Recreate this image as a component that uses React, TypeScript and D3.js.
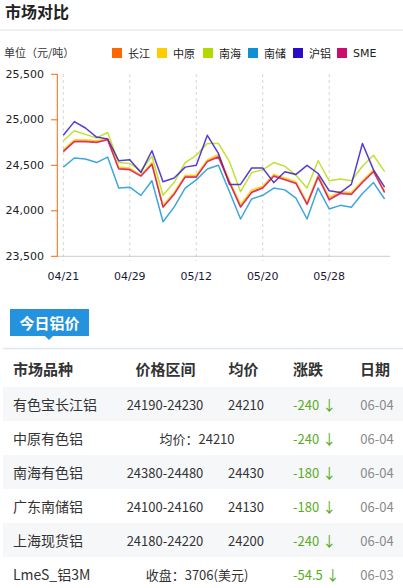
import React from "react";
import * as d3 from "d3";

const dates = ["04/21","04/22","04/23","04/24","04/25","04/28","04/29","04/30","05/06","05/07","05/08","05/09","05/12","05/13","05/14","05/15","05/16","05/19","05/20","05/21","05/22","05/23","05/26","05/27","05/28","05/29","05/30","06/02","06/03","06/04"];
const tickDates = ["04/21","04/29","05/12","05/20","05/28"];
const yTicks = [23500, 24000, 24500, 25000, 25500];

const changjiang = [24660,24770,24770,24760,24790,24470,24460,24390,24520,24050,24190,24380,24380,24550,24600,24320,24050,24210,24260,24390,24350,24310,24080,24380,24130,24200,24190,24320,24440,24210];
const zhongyuan = [24670,24780,24780,24770,24790,24480,24470,24390,24530,24060,24200,24390,24390,24560,24620,24330,24070,24230,24270,24400,24360,24320,24090,24390,24150,24210,24200,24330,24450,24210];
const nanhai = [24770,24880,24840,24800,24860,24530,24520,24440,24600,24170,24310,24530,24610,24740,24740,24540,24210,24420,24450,24530,24490,24390,24250,24550,24330,24350,24330,24490,24610,24430];
const nanchu = [24480,24580,24570,24530,24590,24250,24260,24170,24330,23880,24040,24250,24340,24460,24500,24210,23910,24130,24170,24250,24230,24140,23910,24250,24020,24060,24040,24190,24310,24130];
const hulv = [24830,24980,24910,24810,24790,24550,24560,24420,24660,24320,24360,24480,24500,24830,24630,24290,24290,24470,24470,24310,24430,24400,24500,24410,24220,24200,24290,24740,24450,24260];
const sme = [24650,24760,24760,24750,24780,24460,24450,24380,24510,24040,24180,24370,24370,24540,24590,24310,24040,24200,24250,24380,24340,24300,24070,24370,24120,24190,24180,24310,24430,24200];

const seriesNames = ["长江","中原","南海","南储","沪铝","SME"];
const seriesValues = [changjiang, zhongyuan, nanhai, nanchu, hulv, sme];
const seriesColors = ["#ff6600","#ffcc00","#b3d900","#0e90d2","#2a0dc8","#cc0c6e"];

const tableHeaders = ["市场品种","价格区间","均价","涨跌","日期"];
const rowNames = ["有色宝长江铝","中原有色铝","南海有色铝","广东南储铝","上海现货铝","LmeS_铝3M"];
const rowRanges = ["24190-24230","均价：24210","24380-24480","24100-24160","24180-24220","收盘：3706(美元)"];
const rowAvgs = ["24210","","24430","24130","24200",""];
const rowChanges = ["-240","-240","-180","-180","-240","-54.5"];
const rowDates = ["06-04","06-04","06-04","06-04","06-04","06-03"];

const CJK = "'Noto Sans CJK SC', 'Noto Sans', sans-serif";
const AX = "'DejaVu Sans', Verdana, sans-serif";

export default function App() {
  const x = d3.scaleLinear().domain([0, dates.length - 1]).range([63.3, 384.6]);
  const y = d3.scaleLinear().domain([23500, 25500]).range([256.3, 74.3]);
  const line = d3.line<number>().x((_, i) => x(i)).y((v) => y(v));
  const legendX = [112, 157, 203, 248, 293, 337];
  const rowTop = 387;
  const rowH = 34;

  return (
    <svg width={403} height={588} style={{ position: "absolute", left: 0, top: 0, background: "#fff" }}>
      <text x={5} y={11} dominantBaseline="central" fontFamily={CJK} fontWeight="bold" fontSize={16} fill="#222">市场对比</text>
      <line x1={0} x2={403} y1={30} y2={30} stroke="#ececec" strokeWidth={1.5} />
      <text x={4} y={51.5} dominantBaseline="central" fontFamily={CJK} fontSize={11} fill="#333">单位（元/吨）</text>
      {seriesNames.map((n, i) => (
        <g key={n}>
          <rect x={legendX[i]} y={48} width={10} height={10} fill={seriesColors[i]} />
          <text x={legendX[i] + 16} y={53} dominantBaseline="central" fontFamily={n === "SME" ? AX : CJK} fontSize={11} fill="#222">{n}</text>
        </g>
      ))}
      {/* grid */}
      {tickDates.map((d) => {
        const i = dates.indexOf(d);
        return (
          <g key={d}>
            <line x1={x(i)} x2={x(i)} y1={74} y2={261} stroke="#d6d6d6" strokeDasharray="3,3" />
            <text x={x(i)} y={276} textAnchor="middle" dominantBaseline="central" fontFamily={AX} fontSize={11} fill="#1a1a33">{d}</text>
          </g>
        );
      })}
      <line x1={57} x2={390} y1={256.3} y2={256.3} stroke="#cccccc" />
      <line x1={57.3} x2={57.3} y1={74} y2={256.8} stroke="#ff6600" />
      {yTicks.map((t) => (
        <g key={t}>
          <line x1={51} x2={57.3} y1={y(t)} y2={y(t)} stroke="#ff6600" />
          <text x={44} y={y(t)} textAnchor="end" dominantBaseline="central" fontFamily={AX} fontSize={11} fill="#222">{d3.format(",")(t)}</text>
        </g>
      ))}
      {seriesValues.map((vals, i) => (
        <path key={i} d={line(vals) || ""} fill="none" stroke={seriesColors[i]} strokeWidth={1.5} strokeOpacity={0.8} strokeLinejoin="round" />
      ))}
      {/* table section */}
      <rect x={10} y={309} width={79} height={27} fill="#2492dc" />
      <path d="M45,336 L53,336 L49,340 Z" fill="#2492dc" />
      <text x={49.5} y={322.5} textAnchor="middle" dominantBaseline="central" fontFamily={CJK} fontWeight="bold" fontSize={15} fill="#fff">今日铝价</text>
      <line x1={3} x2={403} y1={348.5} y2={348.5} stroke="#dde6f1" strokeWidth={1.5} />
      {[
        { t: tableHeaders[0], x: 13, a: "start" },
        { t: tableHeaders[1], x: 165.5, a: "middle" },
        { t: tableHeaders[2], x: 243.5, a: "middle" },
        { t: tableHeaders[3], x: 308, a: "middle" },
        { t: tableHeaders[4], x: 375, a: "middle" },
      ].map((h) => (
        <text key={h.t} x={h.x} y={368} textAnchor={h.a as any} dominantBaseline="central" fontFamily={CJK} fontWeight="bold" fontSize={15} fill="#333">{h.t}</text>
      ))}
      {rowNames.map((n, i) => {
        const top = rowTop + i * rowH;
        const cy = top + rowH / 2;
        const merged = rowAvgs[i] === "";
        return (
          <g key={n}>
            {i % 2 === 0 && <rect x={3} y={top} width={400} height={rowH} fill="#f6f7f9" />}
            <text x={13} y={cy} dominantBaseline="central" fontFamily={CJK} fontSize={14} fill="#333">{n}</text>
            <text x={merged ? 197 : 165} y={cy} textAnchor="middle" dominantBaseline="central" fontFamily={CJK} fontSize={13} fill="#333">{rowRanges[i]}</text>
            {!merged && <text x={246} y={cy} textAnchor="middle" dominantBaseline="central" fontFamily={CJK} fontSize={13} fill="#333">{rowAvgs[i]}</text>}
            <text x={293} y={cy} dominantBaseline="central" fontFamily={CJK} fontSize={13} fill="#5aab1e">{rowChanges[i]}<tspan dx={3} fontSize={14}>↓</tspan></text>
            <text x={377} y={cy} textAnchor="middle" dominantBaseline="central" fontFamily={CJK} fontSize={13} fill="#8a8a8a">{rowDates[i]}</text>
          </g>
        );
      })}
    </svg>
  );
}
